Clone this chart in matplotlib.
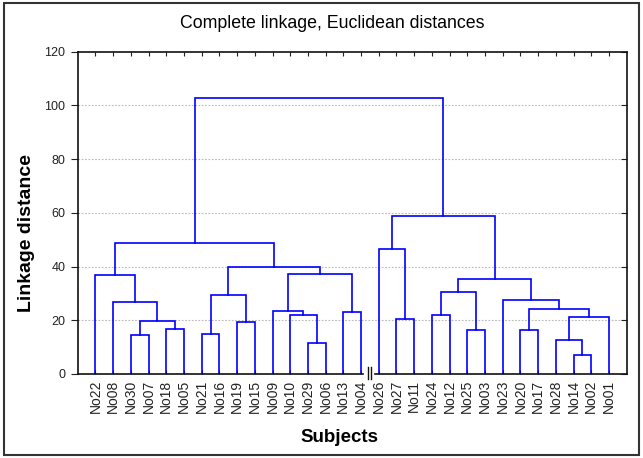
import numpy as np
import matplotlib.pyplot as plt
from matplotlib.patches import Rectangle

plt.rcParams['font.family'] = ['Liberation Sans', 'DejaVu Sans']

# leaf order along the x axis
leaves = ["No22", "No08", "No30", "No07", "No18", "No05", "No21", "No16", "No19", "No15",
          "No09", "No10", "No29", "No06", "No13", "No04", "No26", "No27", "No11", "No24",
          "No12", "No25", "No03", "No23", "No20", "No17", "No28", "No14", "No02", "No01"]

# merges: child a, child b, linkage distance  (c<i> = cluster made in step i)
merge_a = ["No14", "No29", "No28", "No30", "No21", "No20", "No25", "No18", "No19", "c3",
           "No27", "c2", "No10", "No24", "No13", "No09", "c5", "No08", "No23", "c4",
           "c13", "c20", "No22", "c15", "c19", "No26", "c22", "c25", "c26"]
merge_b = ["No02", "No06", "c0", "No07", "No16", "No17", "No03", "No05", "No15", "c7",
           "No11", "No01", "c1", "No12", "No04", "c12", "c11", "c9", "c16", "c8",
           "c6", "c18", "c17", "c14", "c23", "c10", "c24", "c21", "c27"]
merge_h = [7.2, 11.7, 12.6, 14.7, 14.9, 16.3, 16.5, 16.7, 19.4, 19.8,
           20.5, 21.1, 22.1, 22.1, 23.1, 23.6, 24.1, 26.9, 27.5, 29.5,
           30.6, 35.2, 36.7, 37.2, 39.7, 46.5, 48.8, 59.0, 102.6]

break_after = "No04"   # axis break marker position

W, H = 643, 458
fig = plt.figure(figsize=(W / 100, H / 100), dpi=100)
ax = fig.add_axes([77.7 / W, 1 - 374 / H, (626.7 - 77.7) / W, (374 - 51.7) / H])

pos = {name: (i + 1, 0.0) for i, name in enumerate(leaves)}
for i, (a, b, h) in enumerate(zip(merge_a, merge_b, merge_h)):
    xa, ha = pos[a]
    xb, hb = pos[b]
    ax.plot([xa, xa, xb, xb], [ha, h, h, hb], color="#0000ff", lw=1.2,
            solid_joinstyle="miter", zorder=3)
    pos["c%d" % i] = ((xa + xb) / 2, h)

n = len(leaves)
ax.set_xlim(0, n + 1)
ax.set_ylim(0, 120)
ax.set_yticks(np.arange(0, 121, 20))
ax.set_xticks(np.arange(1, n + 1))
ax.set_xticklabels(leaves, rotation=90, fontsize=10)
for t in ax.get_yticklabels():
    t.set_fontsize(9)

for y in range(20, 120, 20):
    ax.axhline(y, color="#b8b8b8", lw=0.8, ls=(0, (1.5, 1.5)), zorder=1)

ax.tick_params(axis="y", direction="out", length=5, width=0.8, pad=4, colors="#222222")
ax.tick_params(axis="x", direction="in", length=3, width=0.8, top=True, pad=4, colors="#222222")
# right ticks point inward
for tk in ax.yaxis.get_major_ticks():
    tk.tick2line.set_visible(True)
    tk.tick2line.set_marker(0)
    tk.tick2line.set_markersize(4)

for s in ax.spines.values():
    s.set_linewidth(1.2)
    s.set_color("#111111")
ax.spines["bottom"].set_visible(False)

# bottom axis line with a break
bx = leaves.index(break_after) + 1.5
ax.plot([0, bx - 0.38], [0, 0], color="#111111", lw=1.2, clip_on=False, zorder=4)
ax.plot([bx + 0.3, n + 1], [0, 0], color="#111111", lw=1.2, clip_on=False, zorder=4)
for dx in (-0.1, 0.08):
    ax.plot([bx + dx, bx + dx], [-2.0, 2.7], color="#111111", lw=1.0, clip_on=False, zorder=4)

fig.text(332 / W, 1 - 23 / H, "Complete linkage, Euclidean distances", ha="center", va="center",
         fontsize=12.8)
fig.text(27 / W, 1 - 233 / H, "Linkage distance", rotation=90, ha="center", va="center",
         fontsize=14, fontweight="bold")
fig.text(339 / W, 1 - 437 / H, "Subjects", ha="center", va="center",
         fontsize=13.5, fontweight="bold")

fig.patches.append(Rectangle((4 / W, 3 / H), 635 / W, 452 / H, transform=fig.transFigure,
                             fill=False, edgecolor="#333333", lw=1.5))

fig.savefig("out.png", dpi=100)
